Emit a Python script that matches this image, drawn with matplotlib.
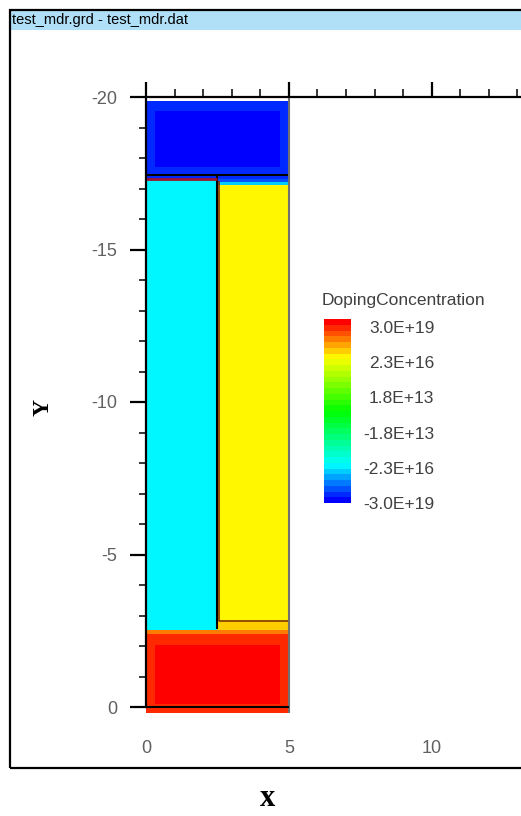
import numpy as np
import matplotlib
matplotlib.use("Agg")
import matplotlib.pyplot as plt
from matplotlib.colors import LinearSegmentedColormap
from matplotlib.patches import Rectangle

plt.rcParams['axes.unicode_minus'] = False

# device regions, painted in order (later ones overwrite earlier ones)
reg_x0 = [0.0, 0.3, 0.0, 0.0, 2.5, 2.5, 2.5, 2.5, 2.5, 0.0, 0.0, 0.3]
reg_x1 = [5.0, 4.7, 2.5, 2.5, 5.0, 5.0, 5.0, 5.0, 5.0, 5.0, 5.0, 4.7]
reg_y0 = [-19.85, -19.55, -17.45, -17.3, -17.45, -17.3, -17.2, -17.13, -2.8, -2.55, -2.55, -2.05]
reg_y1 = [-17.45, -17.7, -17.3, -2.55, -17.3, -17.2, -17.13, -2.8, -2.55, 0.2, -2.4, -0.1]
reg_dop = [-5e18, -3e19, -5e18, -2.3e16, -5e18, -2e18, -1e17, 2.3e16, 5e16, 5e18, 5e17, 3e19]

# outline segments drawn on top of the doping map
seg_x = [[0, 5], [2.5, 2.5], [0, 2.5], [2.57, 2.57, 5], [5, 5], [0, 5]]
seg_y = [[-17.45, -17.45], [-17.45, -2.55], [-17.3, -17.3], [-17.25, -2.82, -2.82], [-20, 0.2], [0, 0]]
seg_col = ['black', 'black', '#a01030', '#803000', '#707070', 'black']
seg_lw = [1.5, 1.5, 2.0, 1.2, 1.5, 1.5]

cbar_labels = ['-3.0E+19', '-2.3E+16', '-1.8E+13', '1.8E+13', '2.3E+16', '3.0E+19']
x_ticks = [0, 5, 10]
y_ticks = [-20, -15, -10, -5, 0]


def level(v):
    # signed log scale, 3e19 -> 1, -3e19 -> 0
    v = np.asarray(v, dtype=float)
    s = np.sign(v) * (np.log10(np.abs(v)) - 11.705)
    return np.clip((s + 7.772) / 15.544, 0, 1)


cmap = LinearSegmentedColormap.from_list(
    'dop', [(0, '#0000ff'), (0.2, '#00ffff'), (0.5, '#00ff00'), (0.8, '#ffff00'), (1, '#ff0000')], N=32)

W, H = 521, 816
fig = plt.figure(figsize=(W / 100, H / 100), dpi=100)

def fx(p):
    return p / W

def fy(p):
    return 1 - p / H

# window frame and title bar
fig.patches.append(Rectangle((fx(10), fy(30)), 1, fy(11) - fy(30), transform=fig.transFigure,
                             facecolor='#b0e0f8', edgecolor='none', zorder=0))
fig.patches.append(Rectangle((fx(10), fy(768)), 1, fy(10) - fy(768), transform=fig.transFigure,
                             facecolor='none', edgecolor='black', lw=1.6, zorder=1))
fig.text(fx(12), fy(20), 'test_mdr.grd - test_mdr.dat', fontsize=10.5, va='center',
         family='Liberation Sans', color='black')

# main axes: x 0 at px146, 28.57 px/unit; y -20 at px97, 30.5 px/unit
ax = fig.add_axes([fx(146), fy(716.15), 375 / W, 619.15 / H])
ax.set_xlim(0, 375 / 28.57)
ax.set_ylim(0.3, -20)

dx = 0.02
xe = np.arange(0, 5 + dx / 2, dx)
ye = np.arange(-20, 0.3 + dx / 2, dx)
xc = (xe[:-1] + xe[1:]) / 2
yc = (ye[:-1] + ye[1:]) / 2
X, Y = np.meshgrid(xc, yc)
grid = np.full(X.shape, np.nan)
for x0, x1, y0, y1, d in zip(reg_x0, reg_x1, reg_y0, reg_y1, reg_dop):
    m = (X >= x0) & (X < x1) & (Y >= y0) & (Y < y1)
    grid[m] = level(d)
ax.pcolormesh(xe, ye, np.ma.masked_invalid(grid), cmap=cmap, vmin=0, vmax=1, shading='flat')

for sx, sy, c, lw in zip(seg_x, seg_y, seg_col, seg_lw):
    ax.plot(sx, sy, color=c, lw=lw, solid_capstyle='butt')

for s in ['right', 'bottom']:
    ax.spines[s].set_visible(False)
ax.spines['top'].set_linewidth(1.6)
ax.spines['left'].set_linewidth(1.6)
ax.spines['left'].set_bounds(0, -20)

ax.set_xticks(x_ticks)
ax.set_xticks(np.arange(0, 14, 1), minor=True)
ax.set_yticks(y_ticks)
ax.set_yticks(np.arange(-20, 1, 1), minor=True)
ax.tick_params(axis='x', which='both', top=True, bottom=False, labeltop=False, labelbottom=True,
               direction='out')
ax.tick_params(axis='x', which='major', length=11, width=1.6, pad=6)
ax.tick_params(axis='x', which='minor', length=6, width=1.1)
ax.tick_params(axis='y', which='major', length=11.5, width=1.6, pad=9)
ax.tick_params(axis='y', which='minor', length=5, width=1.1)
for lab in ax.get_xticklabels() + ax.get_yticklabels():
    lab.set_fontsize(13)
    lab.set_family('Liberation Sans')
    lab.set_color('#606060')

fig.text(fx(43), fy(408), 'Y', rotation=90, ha='center', va='center', fontsize=17,
         fontweight='bold', family='Liberation Serif')
fig.text(fx(268), fy(798), 'x', ha='center', va='center', fontsize=22,
         fontweight='bold', family='Liberation Serif')

# colour legend
cax = fig.add_axes([fx(324), fy(503), 27 / W, 184 / H])
cax.imshow(np.linspace(0, 1, 32).reshape(32, 1), cmap=cmap, vmin=0, vmax=1, aspect='auto',
           origin='lower', extent=(0, 1, 0, 1))
for s in cax.spines.values():
    s.set_visible(False)
cax.set_xticks([])
cax.yaxis.tick_right()
cax.set_yticks(np.linspace(0, 0.957, 6))
cax.set_yticklabels(cbar_labels)
cax.tick_params(axis='y', length=0, pad=60)
for lab in cax.get_yticklabels():
    lab.set_ha('right')
    lab.set_fontsize(12.5)
    lab.set_family('Liberation Sans')
    lab.set_color('#404040')
fig.text(fx(322), fy(300), 'DopingConcentration', fontsize=12.5, va='center',
         family='Liberation Sans', color='#404040')

fig.savefig('out.png', dpi=100)
